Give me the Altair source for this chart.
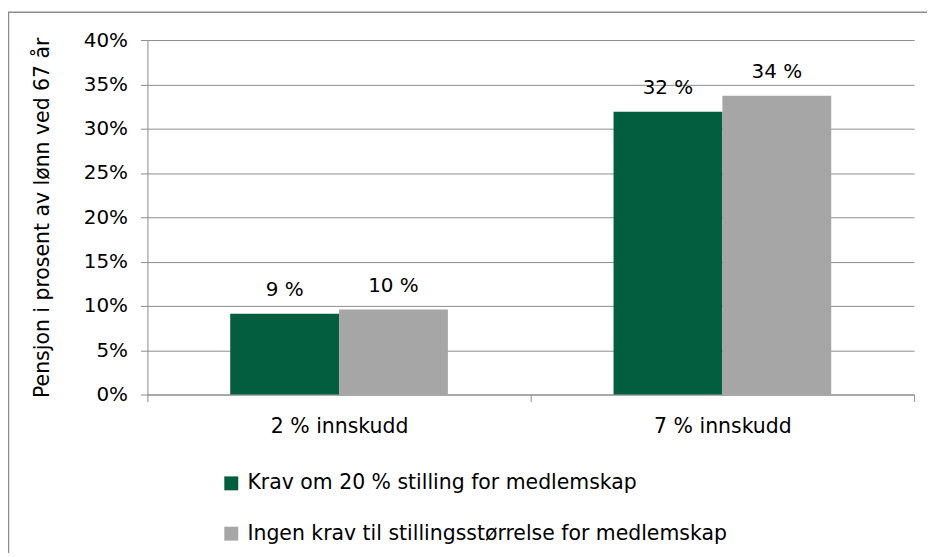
import altair as alt
import pandas as pd

categories = ["2 % innskudd", "7 % innskudd"]
series = ["Krav om 20 % stilling for medlemskap",
          "Ingen krav til stillingsstørrelse for medlemskap"]
values_krav = [0.091, 0.319]
values_ingen = [0.096, 0.337]
labels_krav = ["9 %", "32 %"]
labels_ingen = ["10 %", "34 %"]
y_ticks = [0, 0.05, 0.10, 0.15, 0.20, 0.25, 0.30, 0.35, 0.40]

rows = []
for i, c in enumerate(categories):
    rows.append({"category": c, "series": series[0], "value": values_krav[i], "label": labels_krav[i]})
    rows.append({"category": c, "series": series[1], "value": values_ingen[i], "label": labels_ingen[i]})
df = pd.DataFrame(rows)

FONT = "DejaVu Sans"
GREEN = "#025E3E"
GRAY = "#A6A6A6"
LINE = "#8C8C8C"

base = alt.Chart(df).encode(
    x=alt.X("category:N", sort=categories,
            scale=alt.Scale(paddingInner=0, paddingOuter=0),
            axis=alt.Axis(title=None, labelAngle=0, tickBand="extent", tickSize=7,
                          tickColor=LINE, domainColor=LINE, labelPadding=15,
                          labelFontSize=20.5, labelFont=FONT, labelColor="#000000",
                          grid=False)),
    xOffset=alt.XOffset("series:N", sort=series,
                        scale=alt.Scale(paddingInner=0, paddingOuter=0.761)),
)

bars = base.mark_bar().encode(
    y=alt.Y("value:Q", scale=alt.Scale(domain=[0, 0.4]),
            axis=alt.Axis(values=y_ticks, format=".0%", labelFontSize=20, labelFont=FONT,
                          labelColor="#000000", tickSize=7, tickColor=LINE,
                          domainColor=LINE, gridColor=LINE, labelPadding=13,
                          title="Pensjon i prosent av lønn ved 67 år",
                          titleFontSize=20.5, titleFont=FONT, titleFontWeight="normal",
                          titleColor="#000000", titlePadding=31)),
    color=alt.Color("series:N", sort=series,
                    scale=alt.Scale(domain=series, range=[GREEN, GRAY]),
                    legend=alt.Legend(title=None, orient="none", legendX=74, legendY=435,
                                      direction="vertical", symbolType="square",
                                      symbolSize=196, symbolStrokeWidth=0,
                                      labelFontSize=20.5, labelFont=FONT,
                                      labelColor="#000000", labelOffset=6,
                                      rowPadding=29.5, padding=0, labelLimit=800)),
)

text = base.mark_text(baseline="alphabetic", dy=-18, fontSize=20, font=FONT,
                      color="#000000").encode(
    y=alt.Y("value:Q"),
    text=alt.Text("label:N"),
)

frame = alt.Chart(pd.DataFrame({"k": [0]})).mark_rect(
    fillOpacity=0, stroke=LINE, strokeWidth=1.5, clip=False
).encode(
    x=alt.value(-139.5), x2=alt.value(900), y=alt.value(-28), y2=alt.value(700)
)

chart = alt.layer(frame, bars, text).properties(
    width=770, height=356,
    autosize=alt.AutoSizeParams(type="none"),
    padding={"left": 140, "top": 31, "right": 13, "bottom": 158},
    background="white",
).configure_view(strokeWidth=0)

chart.save("out.html", embed_options={"renderer": "svg", "actions": False})
